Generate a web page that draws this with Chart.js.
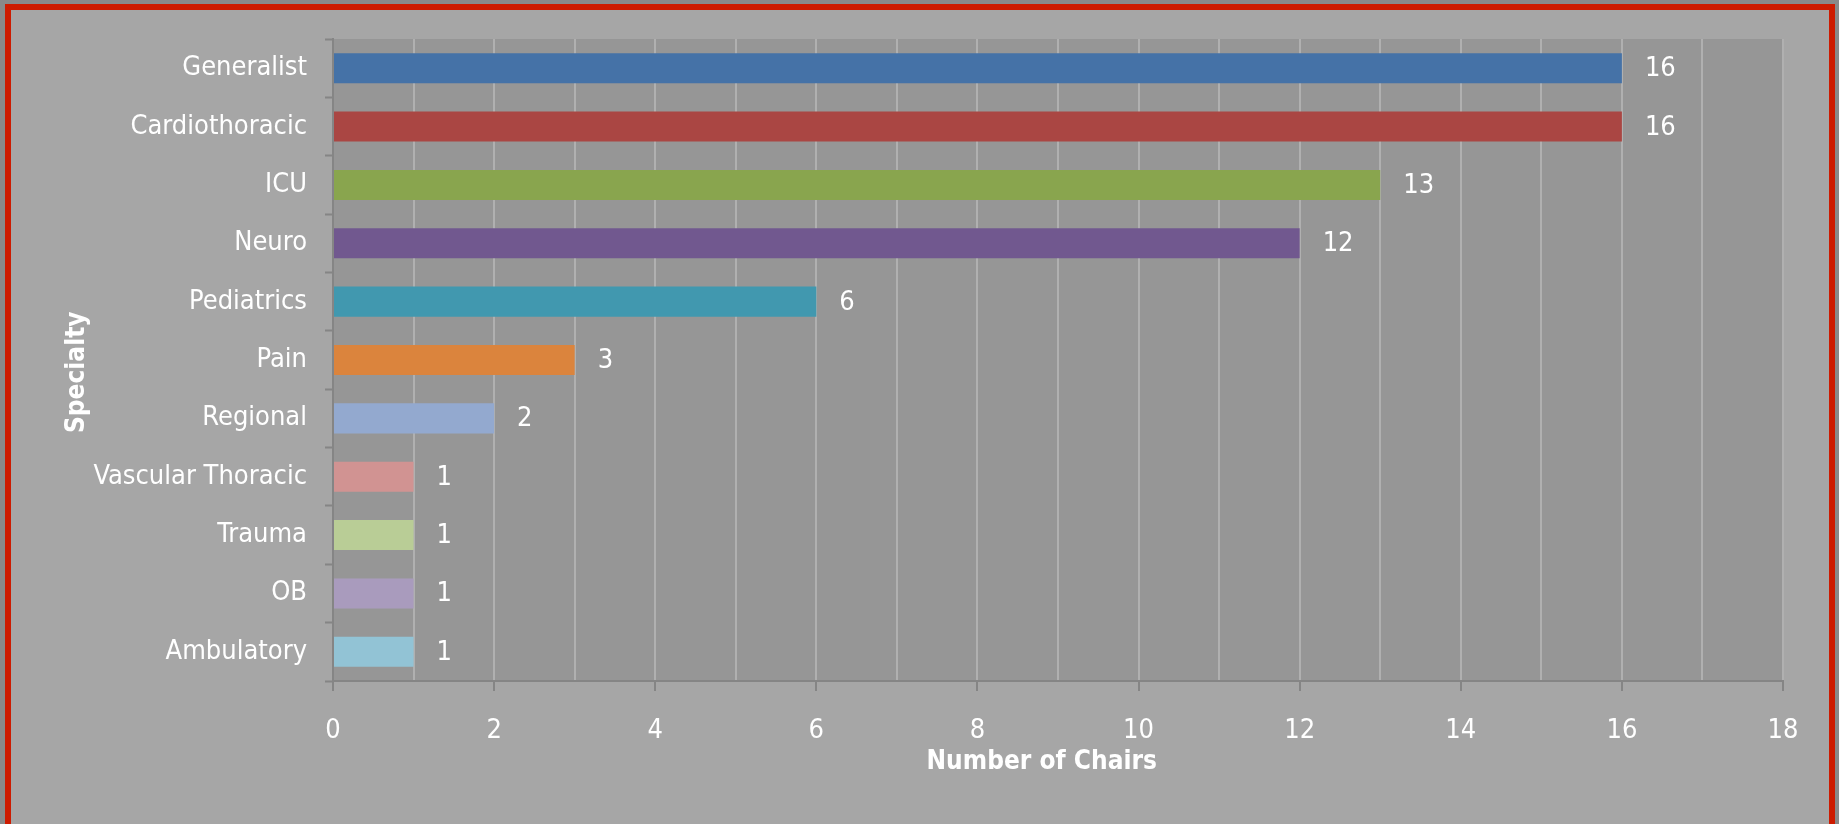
<!DOCTYPE html>
<html>
<head>
<meta charset="utf-8">
<script src="https://cdn.jsdelivr.net/npm/chart.js@4.4.1/dist/chart.umd.min.js"></script>
<style>
  html, body { margin: 0; padding: 0; width: 1839px; height: 824px; overflow: hidden; background: #898989; }
  #frame { position: absolute; left: 5px; top: 4px; width: 1818px; height: 840px; border: 6px solid #cd1b00; background: #a6a6a6; }
  #wrap { position: absolute; left: 0; top: 0; width: 1839px; height: 824px; }
</style>
</head>
<body>
<div id="frame"></div>
<div id="wrap"><canvas id="c" width="1839" height="824"></canvas></div>
<script>
const categories = ["Generalist", "Cardiothoracic", "ICU", "Neuro", "Pediatrics", "Pain", "Regional", "Vascular Thoracic", "Trauma", "OB", "Ambulatory"];
const chairs = [16, 16, 13, 12, 6, 3, 2, 1, 1, 1, 1];
const barColors = ["#4572a7", "#aa4643", "#89a54e", "#71588f", "#4198af", "#db843d", "#93a9cf", "#d19392", "#b9cd96", "#a99bbd", "#92c3d5"];
const xTickLabelsEvery = 2;
const xMax = 18;

const FONT = "'DejaVu Sans Condensed', 'DejaVu Sans', sans-serif";

const plotBg = {
  id: 'plotBg',
  beforeDraw(chart) {
    const {ctx, chartArea: a} = chart;
    ctx.save();
    ctx.fillStyle = '#969696';
    ctx.fillRect(a.left, a.top, a.right - a.left, a.bottom - a.top);
    ctx.restore();
  }
};

const valueLabels = {
  id: 'valueLabels',
  afterDatasetsDraw(chart) {
    const {ctx} = chart;
    const meta = chart.getDatasetMeta(0);
    ctx.save();
    ctx.fillStyle = '#ffffff';
    ctx.font = '27px ' + FONT;
    ctx.textAlign = 'left';
    ctx.textBaseline = 'middle';
    meta.data.forEach((bar, i) => {
      ctx.fillText(String(chart.data.datasets[0].data[i]), bar.x + 23, bar.y + 1);
    });
    ctx.restore();
  }
};

new Chart(document.getElementById('c'), {
  type: 'bar',
  data: {
    labels: categories,
    datasets: [{
      data: chairs,
      backgroundColor: barColors,
      borderWidth: 0,
      barPercentage: 0.515,
      categoryPercentage: 1.0
    }]
  },
  options: {
    indexAxis: 'y',
    responsive: false,
    animation: false,
    layout: { padding: { left: 0, top: 39, right: 56, bottom: 0 } },
    plugins: { legend: { display: false }, tooltip: { enabled: false } },
    scales: {
      x: {
        min: 0, max: xMax,
        afterFit(s) { s.height = 143; },
        ticks: {
          stepSize: 1,
          color: '#ffffff',
          font: { family: FONT, size: 27 },
          padding: 24,
          maxRotation: 0,
          autoSkip: false,
          callback: (v) => (v % xTickLabelsEvery === 0 ? String(v) : '')
        },
        grid: {
          color: (c) => (c.tick && c.tick.value === 0 ? 'rgba(0,0,0,0)' : '#b0b0b0'),
          lineWidth: 2,
          tickLength: 10,
          tickColor: (c) => (c.tick && c.tick.value % xTickLabelsEvery === 0 ? '#858585' : 'rgba(0,0,0,0)'),
          tickWidth: 2
        },
        border: { display: true, color: '#858585', width: 2 },
        title: {
          display: true,
          text: 'Number of Chairs    ',
          color: '#ffffff',
          font: { family: FONT, size: 26, weight: 'bold' },
          padding: { top: 0, bottom: 46 }
        }
      },
      y: {
        afterFit(s) { s.width = 333; },
        ticks: {
          color: '#ffffff',
          font: { family: FONT, size: 27 },
          padding: 18,
          autoSkip: false
        },
        grid: {
          offset: true,
          drawOnChartArea: false,
          tickLength: 8,
          tickColor: '#858585',
          tickWidth: 2
        },
        border: { display: true, color: '#858585', width: 2 },
        title: {
          display: true,
          text: 'Specialty   ',
          color: '#ffffff',
          font: { family: FONT, size: 26, weight: 'bold' },
          padding: { top: 62, bottom: 0 }
        }
      }
    }
  },
  plugins: [plotBg, valueLabels]
});
</script>
</body>
</html>
